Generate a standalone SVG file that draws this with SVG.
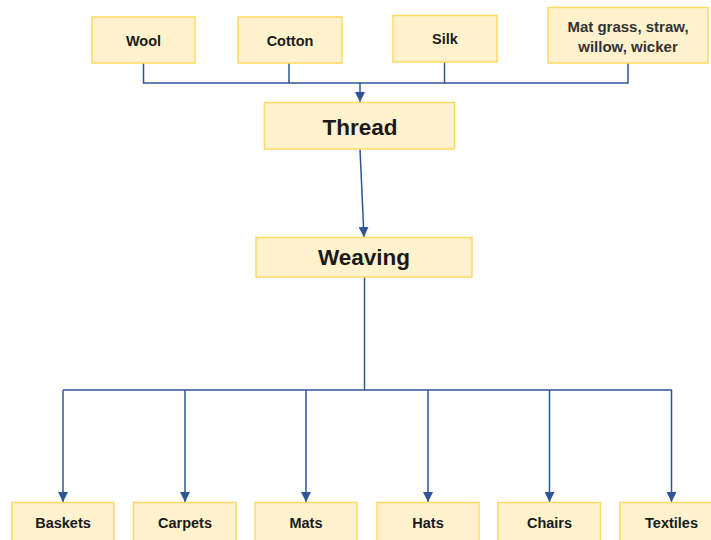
<svg xmlns="http://www.w3.org/2000/svg" width="711" height="540" viewBox="0 0 711 540">
<style>
.box{fill:#FFF2CC;stroke:#FFD966;stroke-width:1.5}
.t{font-family:"Liberation Sans",Arial,sans-serif;font-weight:bold;font-size:14.5px;fill:#1a1a1a;text-anchor:middle;dominant-baseline:central}
.m{font-size:15px;fill:#333}
.big{font-size:22.5px}
.c{fill:none;stroke:#2F5597;stroke-width:1.5}
</style>
<defs>
<marker id="ah" markerWidth="10" markerHeight="10" refX="8" refY="4" orient="auto" markerUnits="userSpaceOnUse" viewBox="0 0 8 8">
<path d="M0,0 L8,4 L0,8 Z" fill="#2F5597"/>
</marker>
</defs>
<rect width="711" height="540" fill="#fff"/>
<g id="connectors">
<polyline class="c" points="143.5,63 143.5,83 628,83 628,63"/>
<line class="c" x1="289" y1="63" x2="289" y2="83"/>
<line class="c" x1="444.5" y1="62" x2="444.5" y2="83"/>
<line class="c" x1="360" y1="83" x2="360" y2="102" marker-end="url(#ah)"/>
<line class="c" x1="360" y1="149" x2="364" y2="237" marker-end="url(#ah)"/>
<polyline class="c" points="364.5,277 364.5,390"/>
<line class="c" x1="63" y1="390" x2="672" y2="390"/>
<line class="c" x1="63" y1="390" x2="63" y2="502" marker-end="url(#ah)"/>
<line class="c" x1="185" y1="390" x2="185" y2="502" marker-end="url(#ah)"/>
<line class="c" x1="306" y1="390" x2="306" y2="502" marker-end="url(#ah)"/>
<line class="c" x1="428" y1="390" x2="428" y2="502" marker-end="url(#ah)"/>
<line class="c" x1="549.5" y1="390" x2="549.5" y2="502" marker-end="url(#ah)"/>
<line class="c" x1="671.5" y1="390" x2="671.5" y2="502" marker-end="url(#ah)"/>
</g>
<g id="wool"><rect class="box" x="92" y="17" width="103" height="46"/><text class="t" x="143.5" y="41">Wool</text></g>
<g id="cotton"><rect class="box" x="238" y="17" width="104" height="46"/><text class="t" x="290" y="41">Cotton</text></g>
<g id="silk"><rect class="box" x="393" y="15.5" width="104" height="46.5"/><text class="t" x="445" y="39">Silk</text></g>
<g id="matgrass"><rect class="box" x="548" y="7.5" width="160" height="55.5"/><text class="t m" x="628" y="26">Mat grass, straw,</text><text class="t m" x="628" y="46">willow, wicker</text></g>
<g id="thread"><rect class="box" x="264.5" y="102.5" width="190" height="46.5"/><text class="t big" x="360" y="127">Thread</text></g>
<g id="weaving"><rect class="box" x="256" y="237.5" width="216" height="39.5"/><text class="t big" x="364" y="257.5">Weaving</text></g>
<g id="baskets"><rect class="box" x="12" y="502.5" width="102" height="45"/><text class="t" x="63" y="523">Baskets</text></g>
<g id="carpets"><rect class="box" x="133.5" y="502.5" width="102.5" height="45"/><text class="t" x="185" y="523">Carpets</text></g>
<g id="mats"><rect class="box" x="255" y="502.5" width="102" height="45"/><text class="t" x="306" y="523">Mats</text></g>
<g id="hats"><rect class="box" x="377" y="502.5" width="102" height="45"/><text class="t" x="428" y="523">Hats</text></g>
<g id="chairs"><rect class="box" x="498" y="502.5" width="102.5" height="45"/><text class="t" x="549.5" y="523">Chairs</text></g>
<g id="textiles"><rect class="box" x="620" y="502.5" width="103" height="45"/><text class="t" x="671.5" y="523">Textiles</text></g>
</svg>
